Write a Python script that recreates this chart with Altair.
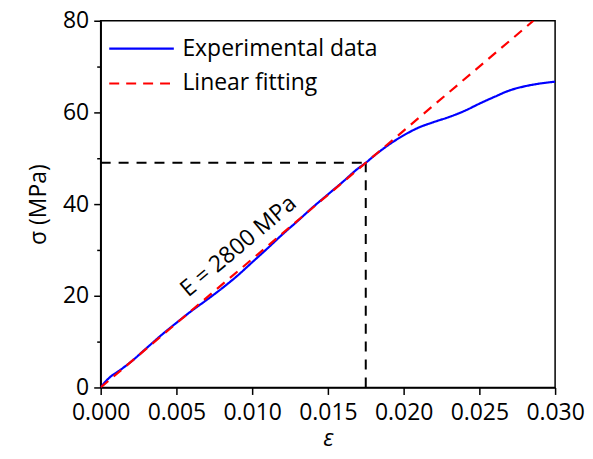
import altair as alt
import pandas as pd

eps_exp = [0, 0.0003, 0.0006, 0.0012, 0.002, 0.003, 0.004, 0.005, 0.006, 0.007,
           0.008, 0.009, 0.010, 0.011, 0.012, 0.013, 0.014, 0.015, 0.016, 0.017,
           0.0175, 0.018, 0.019, 0.020, 0.021, 0.022, 0.023, 0.024, 0.025, 0.026,
           0.027, 0.028, 0.029, 0.030]
sig_exp = [0, 1.2, 2.2, 3.6, 5.6, 8.5, 11.4, 14.1, 16.7, 19.1,
           21.6, 24.3, 27.3, 30.3, 33.4, 36.3, 39.3, 42.1, 44.9, 47.8,
           49.0, 50.4, 52.9, 55.0, 56.7, 57.9, 59.0, 60.3, 61.9, 63.4,
           64.8, 65.7, 66.3, 66.7]

# Linear fitting (E = 2800 MPa)
eps_fit = [0, 0.02857]
sig_fit = [0, 80]

series_names = ["Experimental data", "Linear fitting"]
series_colors = ["#0000FF", "#FF0000"]

# Proportional limit guides
guide_eps = 0.0175
guide_sig = 49

# Annotation
ann_text = ["E = 2800 MPa"]
ann_eps = [0.0091]
ann_sig = [30.8]

FONT = "Open Sans"

df = pd.concat([
    pd.DataFrame({"eps": eps_exp, "sig": sig_exp, "series": series_names[0], "ord": range(len(eps_exp))}),
    pd.DataFrame({"eps": eps_fit, "sig": sig_fit, "series": series_names[1], "ord": range(len(eps_fit))}),
])

x_ticks = [i * 0.0025 for i in range(13)]
y_ticks = list(range(0, 81, 10))

x_major = "abs(datum.value*200 - round(datum.value*200)) < 0.001"
y_major = "datum.value % 20 === 0"

xs = alt.Scale(domain=[0, 0.030], nice=False, zero=False)
ys = alt.Scale(domain=[0, 80], nice=False)

x_axis = alt.Axis(
    title="ε", titleFontStyle="italic", values=x_ticks, format=".3f",
    labelExpr=f"{x_major} ? datum.label : ''",
    tickSize={"condition": {"test": x_major, "value": 7}, "value": 4},
    labelPadding=7, titlePadding=3, grid=False,
    labelFlush=False, labelOverlap=False,
)
y_axis = alt.Axis(
    title="σ (MPa)", values=y_ticks,
    labelExpr=f"{y_major} ? datum.label : ''",
    tickSize={"condition": {"test": y_major, "value": 7}, "value": 4},
    labelPadding=5, titlePadding=12, grid=False,
    labelFlush=False, labelOverlap=False,
)

leg = alt.Legend(title=None, orient="none", legendX=7, legendY=16,
                 symbolType="stroke", symbolSize=4200, clipHeight=24,
                 symbolStrokeWidth=2.2, labelFontSize=23, labelLimit=0,
                 labelFont=FONT, labelColor="black", rowPadding=11, labelOffset=7)

lines = alt.Chart(df).mark_line(strokeWidth=2.2, interpolate="monotone", clip=True).encode(
    x=alt.X("eps:Q", scale=xs, axis=x_axis),
    y=alt.Y("sig:Q", scale=ys, axis=y_axis),
    order="ord:Q",
    color=alt.Color("series:N", scale=alt.Scale(domain=series_names, range=series_colors), legend=leg),
    strokeDash=alt.StrokeDash("series:N", scale=alt.Scale(domain=series_names, range=[[1, 0], [10, 7]]),
                              legend=leg),
)

hdf = pd.DataFrame({"x": [0], "x2": [guide_eps], "y": [guide_sig]})
vdf = pd.DataFrame({"x": [guide_eps], "y": [0], "y2": [guide_sig]})

hrule = alt.Chart(hdf).mark_rule(color="black", strokeWidth=2, strokeDash=[10, 8]).encode(
    x=alt.X("x:Q", scale=xs), x2="x2:Q", y=alt.Y("y:Q", scale=ys))
vrule = alt.Chart(vdf).mark_rule(color="black", strokeWidth=2, strokeDash=[10, 8]).encode(
    x=alt.X("x:Q", scale=xs), y=alt.Y("y:Q", scale=ys), y2="y2:Q")

ann = alt.Chart(pd.DataFrame({"t": ann_text, "x": ann_eps, "y": ann_sig})).mark_text(
    angle=320, fontSize=23, font=FONT, color="black", align="center", baseline="middle"
).encode(x=alt.X("x:Q", scale=xs), y=alt.Y("y:Q", scale=ys), text="t:N")

chart = alt.layer(hrule, vrule, lines, ann).properties(
    width=456, height=368,
    padding={"left": 19, "top": 1, "right": 0, "bottom": 2},
    background="white",
).configure_view(stroke="black", strokeWidth=1.5).configure_axis(
    domainColor="black", domainWidth=1.5, tickColor="black", tickWidth=1.5,
    labelColor="black", titleColor="black", labelFont=FONT, titleFont=FONT,
    labelFontSize=23, titleFontSize=23, titleFontWeight="normal", grid=False,
)

chart.save("out.html", embed_options={"renderer": "svg", "actions": False})
